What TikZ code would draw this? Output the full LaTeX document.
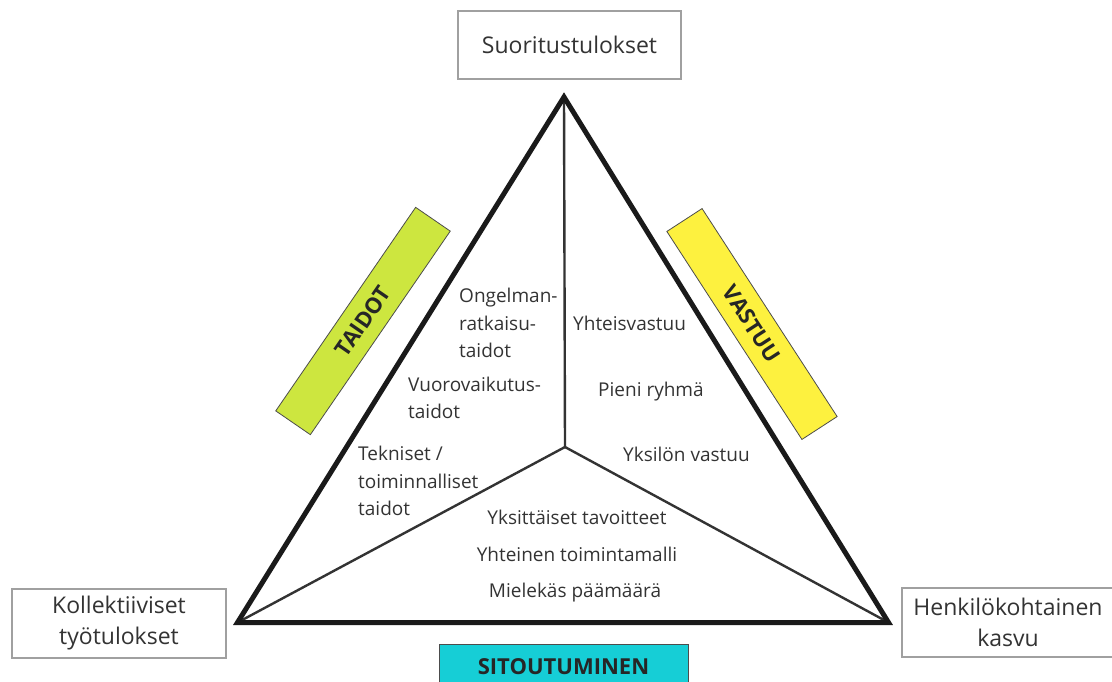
\documentclass[tikz,border=0pt]{standalone}
\usepackage{fontspec}
\setmainfont{Open Sans}
\definecolor{txt}{HTML}{333333}
\definecolor{boxline}{HTML}{A0A0A0}
\definecolor{limebar}{HTML}{CDE63F}
\definecolor{yellowbar}{HTML}{FDF13F}
\definecolor{cyanbar}{HTML}{16CED6}
\definecolor{edge}{HTML}{1A1A1A}
\definecolor{spoke}{HTML}{333333}
\begin{document}
\begin{tikzpicture}[x=1pt,y=-1pt,
  labelbox/.style={draw=boxline,line width=1.2pt,fill=white,inner sep=0pt,
    text=txt,align=center,font=\fontsize{23}{31}\selectfont},
  bar/.style={draw=black!70,line width=0.8pt,inner sep=0pt,text=black!85,
    font=\fontsize{22}{26}\selectfont\bfseries},
  body/.style={inner sep=0pt,text=txt,font=\fontsize{19}{27.5}\selectfont},
  frame/.style={draw=edge,line width=5pt,line join=miter},
  spokeline/.style={draw=spoke,line width=2.4pt}]
\useasboundingbox (0,0) rectangle (1112,681);
\clip (0,0) rectangle (1112,681);

% corners of the triangle and its centre
\coordinate (A) at (564,97);
\coordinate (B) at (237.5,622.5);
\coordinate (C) at (888.5,622.5);
\coordinate (O) at (565,447);

% spokes from the centre to the corners
\draw[spokeline] (O) -- (A);
\draw[spokeline] (O) -- (B);
\draw[spokeline] (O) -- (C);
% outer triangle
\draw[frame] (A) -- (B) -- (C) -- cycle;

% outcome boxes at the corners
\node[labelbox,minimum width=223,minimum height=68] (top) at (569.5,45) {Suoritustulokset};
\node[labelbox,minimum width=214,minimum height=69] (left) at (119,623.5) {Kollektiiviset\\työtulokset};
\node[labelbox,minimum width=212,minimum height=69] (right) at (1008,622.5) {Henkilökohtainen\\kasvu};

% coloured bars along the sides
\node[bar,fill=limebar,minimum width=247,minimum height=42,rotate=55.5] (taidot) at (363,321) {TAIDOT};
\node[bar,fill=yellowbar,minimum width=248,minimum height=42,rotate=-57] (vastuu) at (752,324) {VASTUU};
\node[bar,fill=cyanbar,minimum width=249,minimum height=46] (sitout) at (563.5,667) {SITOUTUMINEN};

% skills
\node[body,align=left,anchor=west] (ongelma) at (459,323) {Ongelman-\\ratkaisu-\\taidot};
\node[body,align=left,anchor=west] (vuoro) at (408,398) {Vuorovaikutus-\\taidot};
\node[body,align=left,anchor=west] (tekn) at (358,481) {Tekniset /\\toiminnalliset\\taidot};
% responsibility
\node[body,anchor=west] (yhteis) at (573,323) {Yhteisvastuu};
\node[body,anchor=west] (pieni) at (598,392) {Pieni ryhmä};
\node[body,anchor=west] (yksilo) at (623,454) {Yksilön vastuu};
% commitment
\node[body] (tavoit) at (577,517) {Yksittäiset tavoitteet};
\node[body] (malli) at (577,554) {Yhteinen toimintamalli};
\node[body] (paama) at (575,593) {Mielekäs päämäärä};
\end{tikzpicture}
\end{document}
